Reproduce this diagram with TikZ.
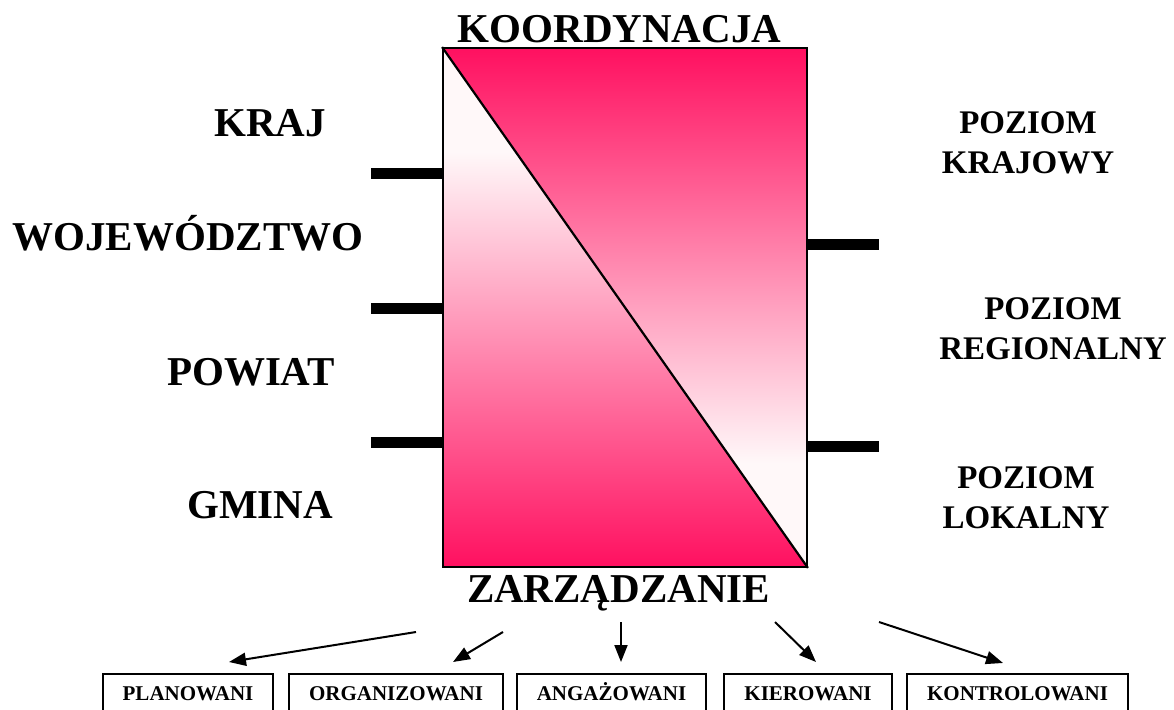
\documentclass[tikz,border=0pt]{standalone}
\usepackage{fontspec}
\setmainfont{Liberation Serif}
\usetikzlibrary{arrows.meta}
\definecolor{deep}{RGB}{255,16,96}
\definecolor{pale}{RGB}{255,248,249}
\pgfdeclareverticalshading{uppershade}{100bp}{color(0bp)=(pale); color(35bp)=(pale); color(75bp)=(deep); color(100bp)=(deep)}
\pgfdeclareverticalshading{lowershade}{100bp}{color(0bp)=(deep); color(25bp)=(deep); color(65bp)=(pale); color(100bp)=(pale)}
\tikzset{
  bigtxt/.style={font=\bfseries\fontsize{41}{41}\selectfont, inner sep=0pt, anchor=base},
  lvltxt/.style={font=\bfseries\fontsize{33}{40}\selectfont, inner sep=0pt, align=center},
  tickline/.style={line width=11pt},
  boxnode/.style={draw, line width=1.8pt, font=\bfseries\fontsize{21}{21}\selectfont, anchor=north, minimum height=38pt, inner sep=0pt, text height=15pt, text depth=0pt},
  arr/.style={line width=2pt, -{Triangle[length=17pt,width=13pt]}}
}
\begin{document}
\begin{tikzpicture}[x=1pt,y=-1pt]
\clip (0,0) rectangle (1174,709);
\fill[white] (0,0) rectangle (1174,709);
% main rectangle with two shaded triangles
\shade[shading=uppershade] (443,48) -- (807,48) -- (807,567) -- cycle;
\shade[shading=lowershade] (443,48) -- (443,567) -- (807,567) -- cycle;
\node[draw, line width=1.8pt, minimum width=364pt, minimum height=519pt, inner sep=0pt] (main) at (625,307.5) {};
\draw[line width=2.2pt] (main.north west) -- (main.south east);
% titles
\node[bigtxt] (koord) at (619.5,43) {KOORDYNACJA};
\node[bigtxt] (zarz) at (618.5,602) {ZARZĄDZANIE};
% left labels
\node[bigtxt] (kraj) at (270,136) {KRAJ};
\node[bigtxt] (woj) at (188,250) {WOJEWÓDZTWO};
\node[bigtxt] (pow) at (251,385) {POWIAT};
\node[bigtxt] (gmina) at (260,518) {GMINA};
% left ticks
\coordinate (l1) at (371,173);
\coordinate (l2) at (371,308);
\coordinate (l3) at (371,442);
\draw[tickline] (l1) -- (main.west |- l1);
\draw[tickline] (l2) -- (main.west |- l2);
\draw[tickline] (l3) -- (main.west |- l3);
% right ticks
\coordinate (r1) at (879,244);
\coordinate (r2) at (879,446);
\draw[tickline] (main.east |- r1) -- (r1);
\draw[tickline] (main.east |- r2) -- (r2);
% right labels
\node[lvltxt] (pk) at (1028,143) {POZIOM\\KRAJOWY};
\node[lvltxt] (pr) at (1053,329) {POZIOM\\REGIONALNY};
\node[lvltxt] (pl) at (1026,497.5) {POZIOM\\LOKALNY};
% bottom boxes
\node[boxnode, minimum width=170pt] (b1) at (188,673) {PLANOWANI};
\node[boxnode, minimum width=214pt] (b2) at (396,673) {ORGANIZOWANI};
\node[boxnode, minimum width=189pt] (b3) at (611.5,673) {ANGAŻOWANI};
\node[boxnode, minimum width=168pt] (b4) at (808,673) {KIEROWANI};
\node[boxnode, minimum width=221pt] (b5) at (1017.5,673) {KONTROLOWANI};
% arrows
\coordinate (s1) at (416,632); \coordinate (t1) at (229,662);
\coordinate (s2) at (503,632); \coordinate (t2) at (453,662);
\coordinate (s3) at (621,622); \coordinate (t3) at (621,662);
\coordinate (s4) at (775,622); \coordinate (t4) at (816,662);
\coordinate (s5) at (879,622); \coordinate (t5) at (1003,663);
\draw[arr] (s1) -- (t1);
\draw[arr] (s2) -- (t2);
\draw[arr] (s3) -- (t3);
\draw[arr] (s4) -- (t4);
\draw[arr] (s5) -- (t5);
\end{tikzpicture}
\end{document}
